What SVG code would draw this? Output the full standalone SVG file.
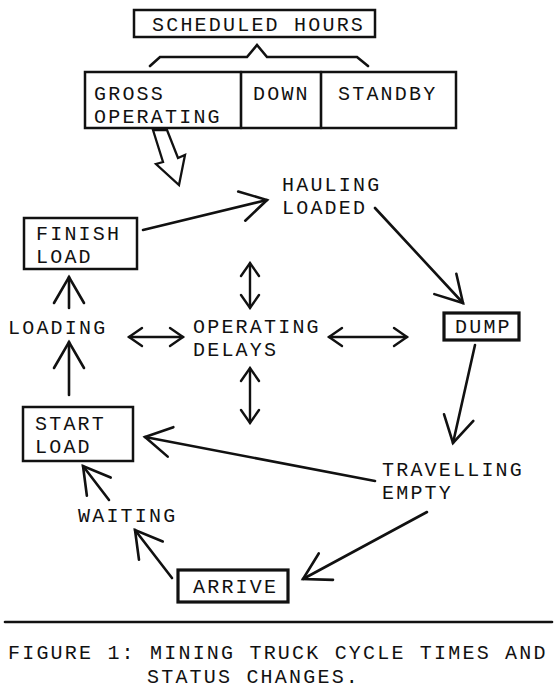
<svg xmlns="http://www.w3.org/2000/svg" width="558" height="692" viewBox="0 0 558 692">
<style>
text{font-family:"Liberation Mono","Courier New",monospace;font-size:20px;letter-spacing:2.2px;fill:#111}
.box{fill:none;stroke:#111;stroke-width:2.5}
.thick{stroke-width:3.2}
.ln{fill:none;stroke:#111;stroke-width:2.6;stroke-linecap:round}
.arr{marker-end:url(#head)}
.dbl{marker-start:url(#small);marker-end:url(#small);stroke-width:2.4}
</style>
<defs>
<marker id="head" markerUnits="userSpaceOnUse" orient="auto" refX="0" refY="0" markerWidth="40" markerHeight="40" overflow="visible">
<path d="M-26,-15 L0,0 L-26,15" fill="none" stroke="#111" stroke-width="2.6" stroke-linecap="round" stroke-linejoin="miter"/>
</marker>
<marker id="small" markerUnits="userSpaceOnUse" orient="auto-start-reverse" refX="0" refY="0" markerWidth="20" markerHeight="20" overflow="visible">
<path d="M-13,-9 L0,0 L-13,9" fill="none" stroke="#111" stroke-width="2.4" stroke-linecap="round"/>
</marker>
</defs>
<rect width="558" height="692" fill="#fff"/>

<g id="scheduled-hours">
<rect class="box" x="134" y="10" width="241" height="27"/>
<text x="152" y="31">SCHEDULED HOURS</text>
</g>
<g id="brace">
<path class="ln" d="M150,66 L160,57 L247,57 L257,45 L267,57 L357,57 L368,66"/>
</g>
<g id="hours-split">
<rect class="box" x="85" y="72" width="371" height="56"/>
<line class="ln" x1="241" y1="72" x2="241" y2="128"/>
<line class="ln" x1="321" y1="72" x2="321" y2="128"/>
<text x="94" y="100">GROSS</text>
<text x="94" y="123">OPERATING</text>
<text x="253" y="100">DOWN</text>
<text x="338" y="100">STANDBY</text>
</g>
<g id="hollow-arrow">
<polygon points="153,130 163,162 156,164 179,185 185,155 178,158 167,130" fill="#fff" stroke="#111" stroke-width="2.3" stroke-linejoin="miter"/>
</g>

<g id="finish-load">
<rect class="box" x="24" y="218" width="113" height="51"/>
<text x="36" y="240">FINISH</text>
<text x="36" y="263">LOAD</text>
</g>
<g id="hauling-loaded">
<text x="282" y="191">HAULING</text>
<text x="282" y="214">LOADED</text>
</g>
<g id="loading">
<text x="8" y="334">LOADING</text>
</g>
<g id="operating-delays">
<text x="193" y="333">OPERATING</text>
<text x="193" y="356">DELAYS</text>
</g>
<g id="dump">
<rect class="box thick" x="444" y="313" width="75" height="27"/>
<text x="455" y="333">DUMP</text>
</g>
<g id="start-load">
<rect class="box" x="23" y="407" width="110" height="54"/>
<text x="35" y="430">START</text>
<text x="35" y="453">LOAD</text>
</g>
<g id="travelling-empty">
<text x="382" y="476">TRAVELLING</text>
<text x="382" y="499">EMPTY</text>
</g>
<g id="waiting">
<text x="78" y="522">WAITING</text>
</g>
<g id="arrive">
<rect class="box thick" x="178" y="570" width="110" height="32"/>
<text x="193" y="593">ARRIVE</text>
</g>

<g id="connectors">
<line class="ln arr" x1="143" y1="230" x2="267" y2="200"/>
<line class="ln arr" x1="375" y1="208" x2="463" y2="303"/>
<line class="ln arr" x1="475" y1="345" x2="453" y2="443"/>
<line class="ln arr" x1="375" y1="481" x2="145" y2="437"/>
<line class="ln arr" x1="427" y1="512" x2="303" y2="579"/>
<line class="ln arr" x1="172" y1="578" x2="135" y2="530"/>
<line class="ln arr" x1="109" y1="500" x2="83" y2="466"/>
<line class="ln arr" x1="69" y1="395" x2="69" y2="342"/>
<line class="ln arr" x1="69" y1="308" x2="69" y2="277"/>
<line class="ln dbl" x1="129" y1="337" x2="183" y2="337"/>
<line class="ln dbl" x1="329" y1="337" x2="407" y2="337"/>
<line class="ln dbl" x1="250" y1="263" x2="250" y2="308"/>
<line class="ln dbl" x1="250" y1="368" x2="250" y2="423"/>
</g>

<g id="caption">
<line class="ln" x1="5" y1="622" x2="552" y2="622"/>
<text x="8" y="659">FIGURE 1: MINING TRUCK CYCLE TIMES AND</text>
<text x="147" y="683">STATUS CHANGES.</text>
</g>
</svg>
